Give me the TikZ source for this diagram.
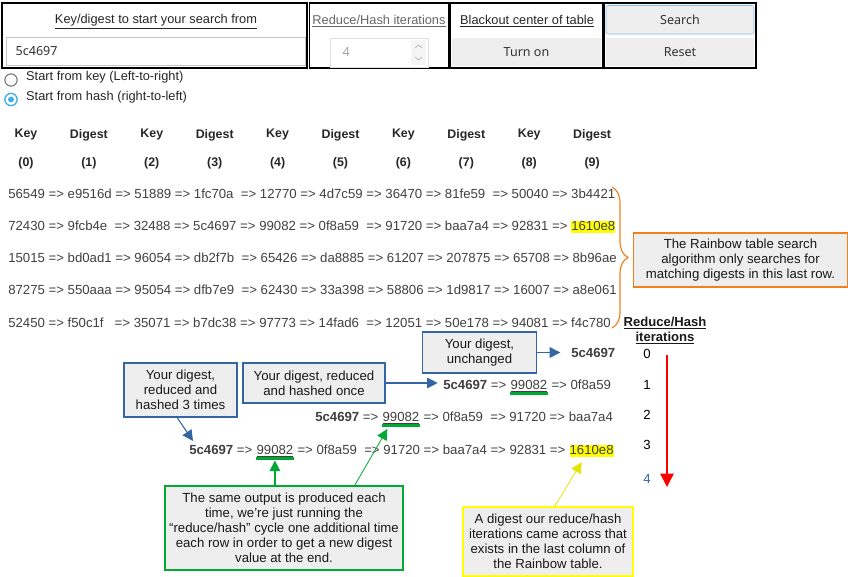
\documentclass[tikz,border=0pt]{standalone}
\usepackage{fontspec}
\setmainfont{Liberation Sans}
\newfontfamily\uifont{Noto Sans}
\usetikzlibrary{arrows.meta,positioning,decorations.pathreplacing}

\definecolor{txtgray}{HTML}{404040}
\definecolor{boxfill}{HTML}{EEEEEE}
\definecolor{callblue}{HTML}{3465A4}
\definecolor{callgreen}{HTML}{00A933}
\definecolor{callorange}{HTML}{F0821E}
\definecolor{callyellow}{HTML}{FFFF00}
\definecolor{radioblue}{HTML}{3DAEE9}
\definecolor{btnblue}{HTML}{7DBDF0}

\newcommand\hlite[1]{{\setlength\fboxsep{0pt}\colorbox{callyellow}{\rule[-1.8pt]{0pt}{8.8pt}#1}}}

\begin{document}
\begin{tikzpicture}[x=0.75pt, y=-0.75pt,
  cellline/.style={line width=1.4pt},
  uihead/.style={font=\fontsize{9.6}{11}\selectfont, text=black!85},
  uitext/.style={font=\uifont\fontsize{9.4}{11}\selectfont, text=black!80},
  radio/.style={anchor=west, font=\fontsize{9.6}{11}\selectfont, text=black!85},
  colhead/.style={font=\bfseries\fontsize{9.3}{11}\selectfont, text=black!85},
  tblrow/.style={anchor=base west, inner sep=0pt, font=\fontsize{9.9}{12}\selectfont, text=txtgray},
  note/.style={draw, fill=boxfill, line width=0.9pt, align=center, inner sep=0pt,
    font=\fontsize{9.9}{11.2}\selectfont, text=black!90},
  bluearrow/.style={callblue, line width=0.8pt, -{Triangle[length=8pt, width=8pt]}},
  greenarrow/.style={callgreen, line width=1pt, -{Triangle[length=8pt, width=8pt]}},
  gbar/.style={callgreen, line width=2pt},
]
  \useasboundingbox (0,0) rectangle (848,577);

  % search form
  \draw[cellline] (2,3) rectangle (307,68);
  \draw[cellline] (309.5,3) rectangle (449,68);
  \draw[cellline] (450.5,3) rectangle (603,68);
  \draw[cellline] (604.5,3) rectangle (756,68);
  \node[uihead] (hkey) at (156,21.5) {\underline{Key/digest to start your search from}};
  \node[uihead, text=black!60] (hiter) at (379,21.5) {\underline{Reduce/Hash iterations}};
  \node[uihead] (hblack) at (527,21.5) {\underline{Blackout center of table}};
  \draw[black!22, fill=white] (6,37) rectangle (305,65);
  \node[uitext, anchor=west] (keyin) at (11,51) {5c4697};
  \draw[black!12] (330,38) rectangle (428,67);
  \node[uitext, anchor=west, text=black!35] (iterin) at (338,52) {4};
  \fill[black!4] (411,40) rectangle (426,65);
  \draw[black!30, line width=0.5pt] (415,48) -- (418.5,45) -- (422,48) (415,57) -- (418.5,60) -- (422,57);
  \fill[boxfill] (452,38) rectangle (601,66);
  \node[uitext] (turnon) at (526.5,52) {Turn on};
  \draw[btnblue, fill=boxfill, rounded corners=1.5pt] (606,5.5) rectangle (754,34);
  \node[uitext] (search) at (680,20) {Search};
  \fill[boxfill] (606,38) rectangle (754,66);
  \node[uitext] (reset) at (680,52) {Reset};

  \draw[black!55, line width=0.8pt, fill=white] (11,80) circle[radius=4.6pt];
  \node[radio] (rkey) at (21.5,77.5) {Start from key (Left-to-right)};
  \draw[radioblue, line width=1pt, fill=white] (11,99.5) circle[radius=4.6pt];
  \fill[radioblue] (11,99.5) circle[radius=2.2pt];
  \node[radio] (rhash) at (21.5,97.5) {Start from hash (right-to-left)};

  % rainbow table
  \foreach \i/\lbl in {0/Key,1/Digest,2/Key,3/Digest,4/Key,5/Digest,6/Key,7/Digest,8/Key,9/Digest} {
    \node[colhead] (hk\i) at ({26+62.9*\i},135) {\lbl};
    \node[colhead] (hn\i) at ({26+62.9*\i},163.5) {(\i)};
  }
  \node[tblrow] (row1) at (8,198.2) {56549 => e9516d => 51889 => 1fc70a~ => 12770 => 4d7c59 => 36470 => 81fe59~ => 50040 => 3b4421};
  \node[tblrow] (row2) at (8,230.4) {72430 => 9fcb4e~ => 32488 => 5c4697 => 99082 => 0f8a59~ => 91720 => baa7a4 => 92831 => \hlite{1610e8}};
  \node[tblrow] (row3) at (8,262.6) {15015 => bd0ad1 => 96054 => db2f7b~ => 65426 => da8885 => 61207 => 207875 => 65708 => 8b96ae};
  \node[tblrow] (row4) at (8,294.8) {87275 => 550aaa => 95054 => dfb7e9~ => 62430 => 33a398 => 58806 => 1d9817 => 16007 => a8e061};
  \node[tblrow] (row5) at (8,327) {52450 => f50c1f~~ => 35071 => b7dc38 => 97773 => 14fad6~ => 12051 => 50e178 => 94081 => f4c780};

  \draw[callorange, line width=0.9pt, decorate, decoration={brace, amplitude=12pt}] (612,187) -- (612,328);
  \node[note, draw=callorange, minimum width=160pt, minimum height=40.5pt] (lastnote) at (740.5,260)
    {The Rainbow table search\\algorithm only searches for\\matching digests in this last row.};

  % reduce/hash chains
  \node[tblrow] (a0) at (571,357.5) {\textbf{5c4697}};
  \node[tblrow] (b0) at (443,389.5) {\textbf{5c4697} =>~\null};
  \node[tblrow] (uB) at (b0.base east) {\underline{99082}};
  \node[tblrow] (b2) at (uB.base east) {~=> 0f8a59};
  \node[tblrow] (c0) at (315,421.5) {\textbf{5c4697} =>~\null};
  \node[tblrow] (uC) at (c0.base east) {\underline{99082}};
  \node[tblrow] (c2) at (uC.base east) {~=> 0f8a59~~=> 91720 => baa7a4};
  \node[tblrow] (d0) at (189,454.5) {\textbf{5c4697} =>~\null};
  \node[tblrow] (uD) at (d0.base east) {\underline{99082}};
  \node[tblrow] (d2) at (uD.base east) {~=> 0f8a59~~=> 91720 => baa7a4 => 92831 =>~\null};
  \node[tblrow] (hD) at (d2.base east) {\hlite{1610e8}};
  \foreach \u in {uB,uC,uD}
    \draw[gbar] ([yshift=-3pt]\u.base west) -- ([yshift=-3pt]\u.base east);

  \node[font=\bfseries\fontsize{9.8}{11.25}\selectfont, align=center, text=black!90] (iterhead) at (665,330.5)
    {\underline{Reduce/Hash}\\\underline{iterations}};
  \foreach \i/\y in {0/354,1/385,2/415,3/445}
    \node[font=\fontsize{9.9}{12}\selectfont] (it\i) at (647,\y) {\i};
  \node[font=\fontsize{9.9}{12}\selectfont, text=callblue] (it4) at (647,479) {4};
  \coordinate (itTop) at (667,355);
  \coordinate (itEnd) at (667,487);
  \draw[red, line width=1pt, -{Triangle[length=10pt, width=10pt]}] (itTop) -- (itEnd);

  \node[note, draw=callblue, minimum width=86pt, minimum height=30.75pt] (b0note) at (479.5,352.5)
    {Your digest,\\unchanged};
  \node[note, draw=callblue, minimum width=106.5pt, minimum height=30pt] (b1note) at (314,383)
    {Your digest, reduced\\and hashed once};
  \node[note, draw=callblue, minimum width=84.75pt, minimum height=40.5pt] (b3note) at (180.5,390)
    {Your digest,\\reduced and\\hashed 3 times};
  \node[note, draw=callgreen, minimum width=178.5pt, minimum height=63pt] (gnote) at (284,528)
    {The same output is produced each\\time, we’re just running the\\“reduce/hash” cycle one additional time\\each row in order to get a new digest\\value at the end.};
  \node[note, draw=callyellow, minimum width=127.5pt, minimum height=51.75pt] (ynote) at (548,541.5)
    {A digest our reduce/hash\\iterations came across that\\exists in the last column of\\the Rainbow table.};

  \draw[bluearrow] (b0note.east) -- ([xshift=-8pt]a0.west |- b0note.east);
  \draw[bluearrow] (b1note.east) -- ([xshift=-4pt]b0.west |- b1note.east);
  \draw[bluearrow] ([xshift=-2.5pt]b3note.south) -- ([shift={(4,-4)}]d0.north west);
  \draw[greenarrow] (uD.base |- gnote.north) -- ([yshift=-4.5pt]uD.base);
  \draw[callgreen, line width=0.6pt, -{Triangle[length=8pt, width=8pt]}] ([xshift=53pt]gnote.north) -- ([shift={(5,7.5)}]uC.base west);
  \draw[callyellow!90!black, line width=0.6pt, -{Triangle[length=8pt, width=8pt]}] ([xshift=5pt]ynote.north) -- ([shift={(-10,5)}]hD.south);
\end{tikzpicture}
\end{document}
